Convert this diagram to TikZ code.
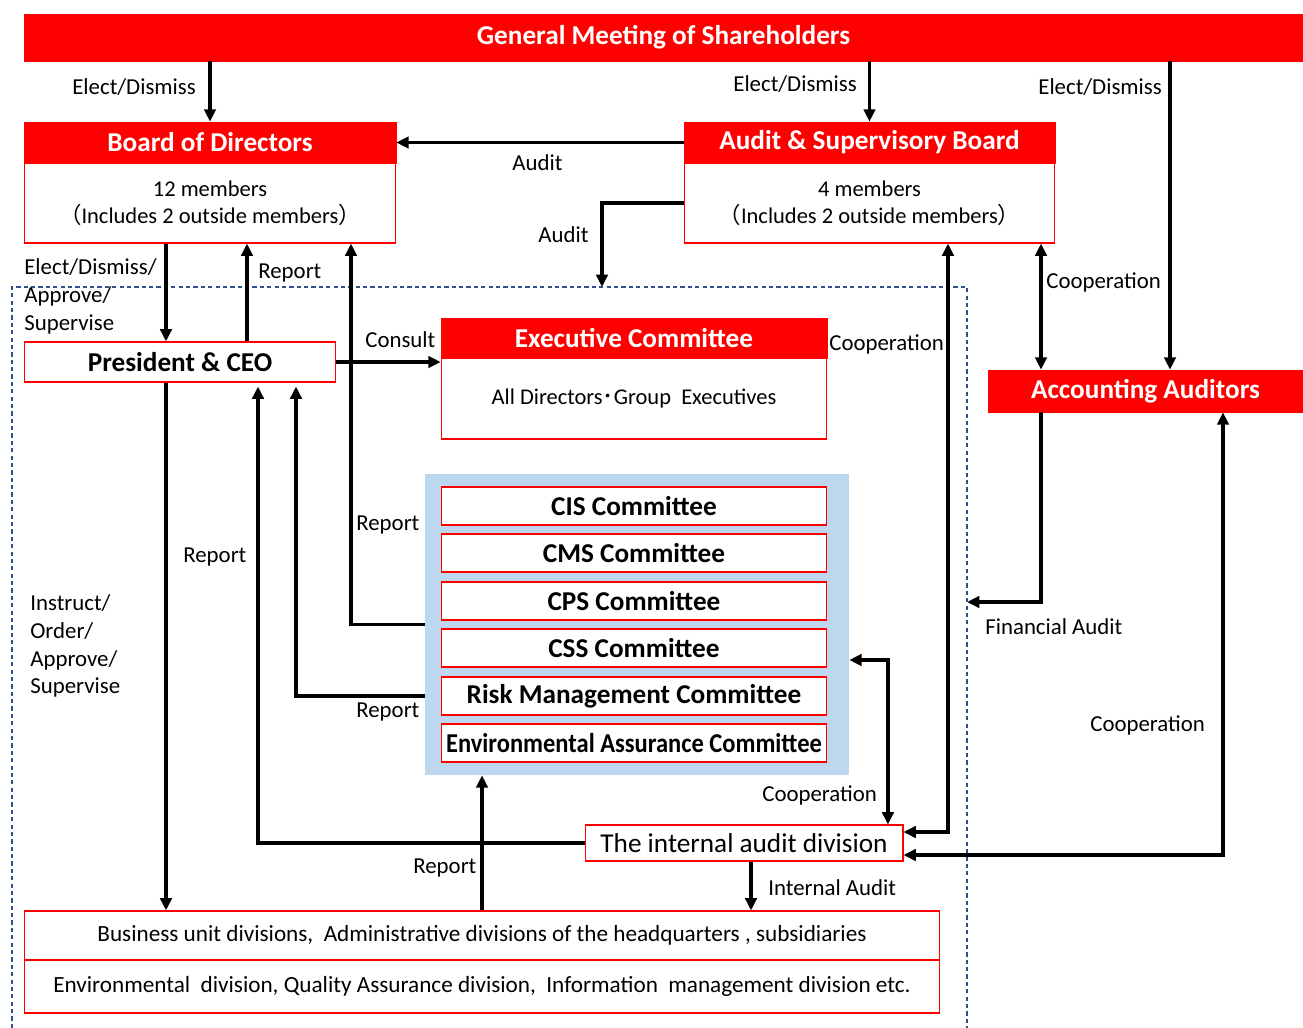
\documentclass[tikz,border=0pt]{standalone}
\usepackage{fontspec}
\setmainfont{Carlito}
\newfontfamily\cjk{Noto Sans CJK JP}
\usetikzlibrary{arrows.meta,positioning,calc}
\definecolor{govRed}{HTML}{FF0000}
\definecolor{panelBlue}{HTML}{BDD7EE}
\definecolor{frameBlue}{HTML}{2F4F8F}

\begin{document}
\begin{tikzpicture}[x=0.02cm, y=-0.02cm,
  hdr/.style={fill=govRed,draw=govRed,text=white,inner sep=0pt,
    font=\fontsize{15.5}{18}\selectfont\bfseries},
  bodybox/.style={draw=govRed,fill=white,line width=0.6pt,inner sep=0pt,align=center,
    font=\fontsize{12.8}{15.3}\selectfont},
  com/.style={bodybox,font=\fontsize{15.5}{18}\selectfont\bfseries,
    minimum width=7.72cm,minimum height=0.76cm},
  lbl/.style={inner sep=0pt,anchor=west,align=left,font=\fontsize{13}{15.9}\selectfont},
  arr/.style={line width=1.8pt,-{Triangle[length=7pt,width=6.5pt]}},
  dbl/.style={line width=1.8pt,{Triangle[length=7pt,width=6.5pt]}-{Triangle[length=7pt,width=6.5pt]}},
  frame/.style={frameBlue,line width=0.6pt,dash pattern=on 2.4pt off 1.8pt}]
\useasboundingbox (0,0) rectangle (1303,1028);
% --- dashed frame ---
\coordinate (fSW) at (12,1028);
\coordinate (fNW) at (12,287);
\coordinate (fNE) at (967,287);
\coordinate (fSE) at (967,1028);
\draw[frame] (fSW) -- (fNW) -- (fNE) -- (fSE);
% --- boards ---
\node[hdr,minimum width=25.58cm,minimum height=0.94cm] (gm) at (663.5,37.5) {General Meeting of Shareholders};
\node[hdr,minimum width=7.44cm,minimum height=0.82cm] (bod) at (210,142.5) {Board of Directors};
\node[bodybox,minimum width=7.44cm,minimum height=1.6cm] (bodb) at (210,203)
  {12 members\\{\cjk （}Includes 2 outside members{\cjk ）}};
\node[hdr,minimum width=7.42cm,minimum height=0.82cm] (asb) at (869.5,142.5) {Audit \& Supervisory Board};
\node[bodybox,minimum width=7.42cm,minimum height=1.6cm] (asbb) at (869.5,203)
  {4 members\\{\cjk （}Includes 2 outside members{\cjk ）}};
\node[hdr,minimum width=6.3cm,minimum height=0.84cm] (acc) at (1145.5,391) {Accounting Auditors};
% --- executive side ---
\node[bodybox,font=\fontsize{15.5}{18}\selectfont\bfseries,minimum width=6.24cm,minimum height=0.8cm] (ceo) at (180,362) {President \& CEO};
\node[hdr,minimum width=7.72cm,minimum height=0.8cm] (exe) at (634,338) {Executive Committee};
\node[bodybox,minimum width=7.72cm,minimum height=1.62cm] (exeb) at (634,398.5)
  {All Directors{\cjk ･}Group\ \ Executives};
% --- committees ---
\node[fill=panelBlue,inner sep=0pt,minimum width=8.48cm,minimum height=6.02cm] (panel) at (637,624.5) {};
\foreach \n/\t/\y in {cis/CIS Committee/506, cms/CMS Committee/553, cps/CPS Committee/601,
    css/CSS Committee/648, risk/Risk Management Committee/696}
  \node[com] (\n) at (634,\y) {\t};
\node[com] (env) at (634,743) {\scalebox{0.9}[1]{Environmental Assurance Committee}};
% --- audit division and units ---
\node[bodybox,font=\fontsize{15.5}{18}\selectfont,minimum width=6.36cm,minimum height=0.72cm] (ia) at (744,843) {The internal audit division};
\node[bodybox,font=\fontsize{13.2}{15}\selectfont,minimum width=18.32cm,minimum height=0.98cm] (bu) at (482,935.5)
  {Business unit divisions,\ \ Administrative divisions of the headquarters , subsidiaries};
\node[bodybox,font=\fontsize{13.2}{15}\selectfont,minimum width=18.32cm,minimum height=1.06cm] (bub) at (482,986.5)
  {Environmental\ \ division, Quality Assurance division,\ \ Information\ \ management division etc.};
% --- connector columns ---
\foreach \n/\x in {colElect/166, colRep/247, colIaRep/258, colRiskRep/296, colComRep/351,
    colIaAud/751, colCoop/1041, colAccEl/1170, colAccCoop/1223}
  \coordinate (\n) at (\x,0);
\coordinate (auditIn) at (602,287);
\coordinate (finIn) at (967,602);
% --- connectors ---
\draw[arr] (gm.south -| bod.north) -- (bod.north);
\draw[arr] (gm.south -| asb.north) -- (asb.north);
\draw[arr] (colAccEl |- gm.south) -- (colAccEl |- acc.north);
\draw[arr] (asb.west) -- (bod.east);
\draw[arr] (asbb.west) -| (auditIn);
\draw[arr] (colElect |- bodb.south) -- (colElect |- ceo.north);
\draw[arr] (colRep |- ceo.north) -- (colRep |- bodb.south);
\draw[arr] (panel.west) -| (colComRep |- bodb.south);
\draw[arr] (ceo.east) -- (exe.west |- ceo.east);
\draw[arr] (panel.west |- risk) -| ([yshift=-0.08cm]colRiskRep |- ceo.south);
\draw[arr] (ia.west) -| ([yshift=-0.08cm]colIaRep |- ceo.south);
\draw[arr] (colElect |- ceo.south) -- (colElect |- bu.north);
\draw[arr] (bu.north) -- (bu.north |- panel.south);
\draw[arr] (colIaAud |- ia.south) -- (colIaAud |- bu.north);
\draw[dbl] ([yshift=-0.71cm]panel.east) -| ([xshift=2.88cm]ia.north);
\draw[dbl] ([yshift=0.22cm]ia.east) -| ([xshift=1.57cm]asbb.south);
\draw[dbl] (colCoop |- asbb.south) -- (colCoop |- acc.north);
\draw[arr] (colCoop |- acc.south) |- (finIn);
\draw[dbl] ([yshift=-0.24cm]ia.east) -| (colAccCoop |- acc.south);
% --- labels ---
\node[lbl] (lElect1) at (72,87) {Elect/Dismiss};
\node[lbl] (lElect2) at (733,84) {Elect/Dismiss};
\node[lbl] (lElect3) at (1038,87) {Elect/Dismiss};
\node[lbl] (lAudit1) at (512,163) {Audit};
\node[lbl] (lAudit2) at (538,235) {Audit};
\node[lbl] (lElect4) at (24,296) {Elect/Dismiss/\\Approve/\\Supervise};
\node[lbl] (lRep1) at (258,273) {Report};
\node[lbl] (lConsult) at (365,340) {Consult};
\node[lbl] (lCoop1) at (829,344) {Cooperation};
\node[lbl] (lCoop2) at (1046,282) {Cooperation};
\node[lbl] (lRep2) at (356,525) {Report};
\node[lbl] (lRep3) at (183,557) {Report};
\node[lbl] (lInstr) at (30,646) {Instruct/\\Order/\\Approve/\\Supervise};
\node[lbl] (lRep4) at (356,712) {Report};
\node[lbl] (lFin) at (985,627) {Financial Audit};
\node[lbl] (lCoop3) at (1090,725) {Cooperation};
\node[lbl] (lCoop4) at (762,795) {Cooperation};
\node[lbl] (lRep5) at (413,868) {Report};
\node[lbl] (lIntAud) at (768,888) {Internal Audit};
\end{tikzpicture}
\end{document}
